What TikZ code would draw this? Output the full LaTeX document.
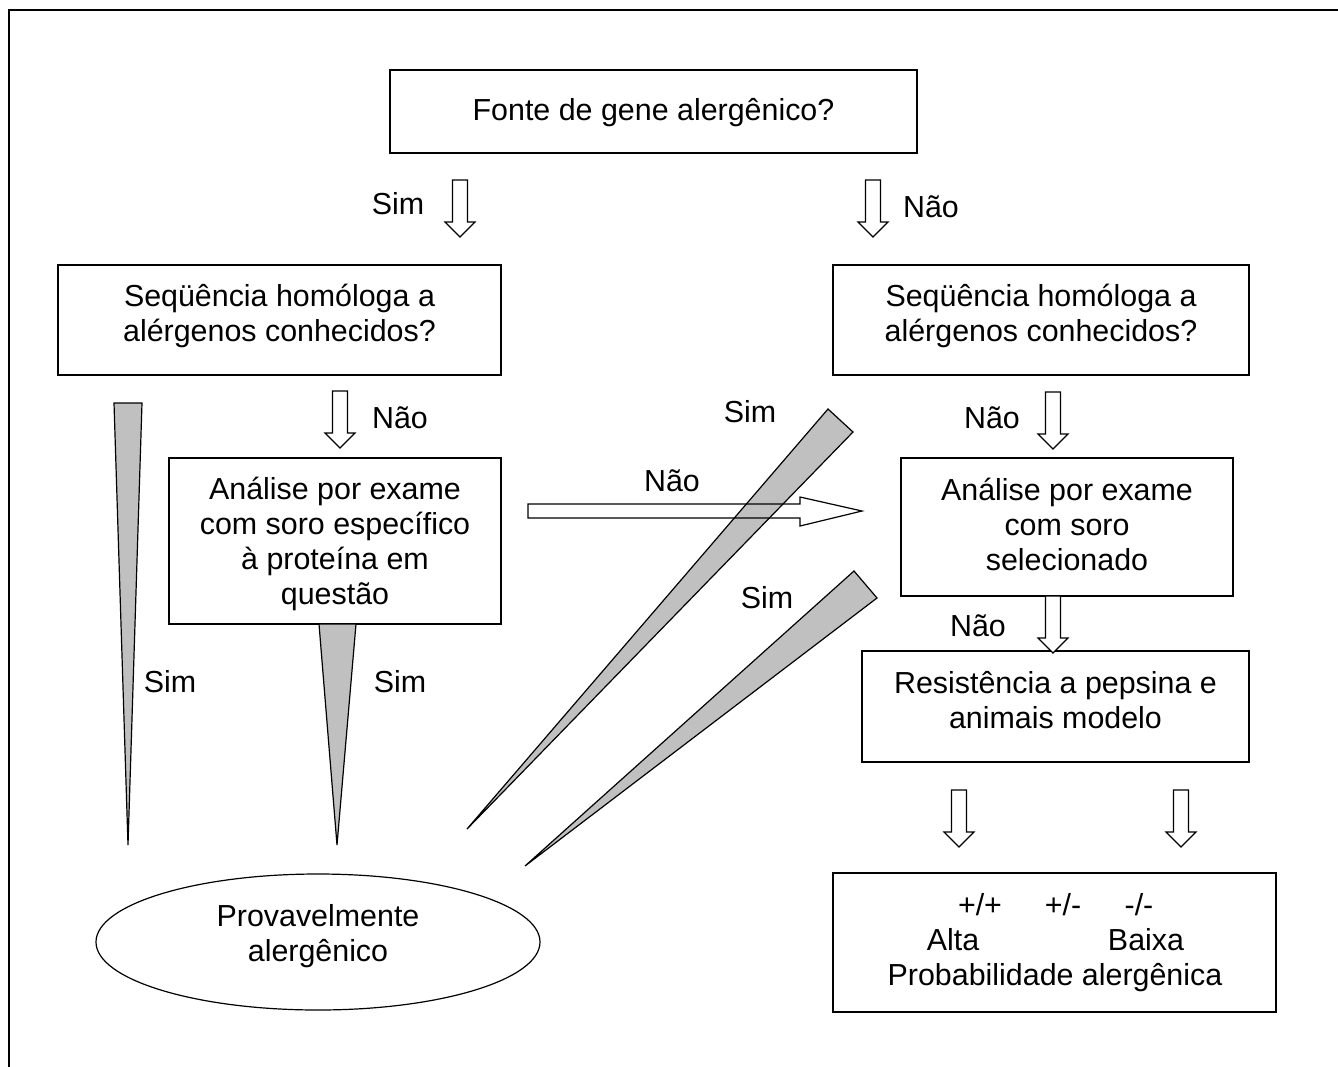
\documentclass[tikz,border=0pt]{standalone}
\usepackage{fontspec}
\setmainfont{Liberation Sans}
\usetikzlibrary{shapes.geometric}
\definecolor{wedgegray}{RGB}{192,192,192}
\begin{document}
\begin{tikzpicture}[x=1pt,y=-1pt,
  box/.style={draw, line width=1.2pt, rectangle, inner sep=0pt},
  boxtext/.style={inner sep=0pt, align=center, font=\fontsize{30.4}{35}\selectfont},
  lbl/.style={font=\fontsize{30.4}{35}\selectfont, inner sep=0pt, text height=21.5pt, text depth=0pt, anchor=center},
  btxt/.style={font=\fontsize{30.4}{35}\selectfont, inner sep=0pt, anchor=base},
  wedgeshape/.style={draw, fill=wedgegray, line width=1.2pt, line join=miter},
  hdown/.pic={\draw[fill=white,line width=1.2pt] (-7.5,0) -- (-7.5,42) -- (-15,42) -- (0,57) -- (15,42) -- (7.5,42) -- (7.5,0) -- cycle;}]
\useasboundingbox (0,0) rectangle (1338,1066);
% outer frame (only top and left edges visible)
\draw[line width=2pt] (1340,10) -- (8.5,10) -- (8.5,1070);

% boxes
\node[box, minimum width=527, minimum height=83] (top) at (653.5,111.5) {};
\node[boxtext] (topt) at (653.5,113) {Fonte de gene alergênico?};
\node[box, minimum width=443, minimum height=110] (seqL) at (279.5,320) {};
\node[boxtext] (seqLt) at (279.5,316) {Seqüência homóloga a\\alérgenos conhecidos?};
\node[box, minimum width=416, minimum height=110] (seqR) at (1041,320) {};
\node[boxtext] (seqRt) at (1041,316) {Seqüência homóloga a\\alérgenos conhecidos?};
\node[box, minimum width=332, minimum height=166] (anaL) at (335,541) {};
\node[boxtext] (anaLt) at (335,544) {Análise por exame\\com soro específico\\à proteína em\\questão};
\node[box, minimum width=332, minimum height=138] (anaR) at (1067,527) {};
\node[boxtext] (anaRt) at (1067,524) {Análise por exame\\com soro\\selecionado};
\node[box, minimum width=387, minimum height=111] (res) at (1055.5,706.5) {};
\node[boxtext] (rest) at (1055.5,700.5) {Resistência a pepsina e\\animais modelo};
\node[box, minimum width=443, minimum height=139] (prob) at (1054.5,942.5) {};
\node[draw, line width=1.2pt, ellipse, inner sep=0pt, minimum width=444, minimum height=136] (prov) at (318,942) {};
\node[boxtext] (provt) at (318,936) {Provavelmente\\alergênico};

% texts of the probability box
\node[btxt] (pp) at (980,915) {+/+};
\node[btxt] (pm) at (1063,915) {+/-};
\node[btxt] (mm) at (1139,915) {-/-};
\node[btxt] (alta) at (953,950) {Alta};
\node[btxt] (baixa) at (1146,950) {Baixa};
\node[btxt] (probt) at (1055,985) {Probabilidade alergênica};

% hollow down arrows
\pic at (460,180) {hdown};
\pic at (873,180) {hdown};
\pic at (340,391) {hdown};
\pic at (1053,392) {hdown};
\pic at (1053,596) {hdown};
\pic at (959,790) {hdown};
\pic at (1181,790) {hdown};

% horizontal arrow (fill first)
\fill[white] (528,504) -- (800,504) -- (800,497) -- (862,511) -- (800,526) -- (800,518) -- (528,518) -- cycle;

% wedges
\draw[wedgeshape] (114,403) -- (142,403) -- (128,845) -- cycle;
\draw[wedgeshape] (319,624) -- (356,624) -- (337,845) -- cycle;
\draw[wedgeshape] (828,409) -- (853,432) -- (467,829) -- cycle;
\draw[wedgeshape] (854,571) -- (877,598) -- (525,866) -- cycle;

% horizontal arrow outline on top
\draw[line width=1.2pt, line join=miter] (528,504) -- (800,504) -- (800,497) -- (862,511) -- (800,526) -- (800,518) -- (528,518) -- cycle;

% labels
\node[lbl] (l1) at (398,204) {Sim};
\node[lbl] (l2) at (931,207) {Não};
\node[lbl] (l3) at (400,418) {Não};
\node[lbl] (l4) at (170,682) {Sim};
\node[lbl] (l5) at (400,682) {Sim};
\node[lbl] (l6) at (672,481) {Não};
\node[lbl] (l7) at (750,412) {Sim};
\node[lbl] (l8) at (767,598) {Sim};
\node[lbl] (l9) at (992,418) {Não};
\node[lbl] (l10) at (978,626) {Não};
\end{tikzpicture}
\end{document}
